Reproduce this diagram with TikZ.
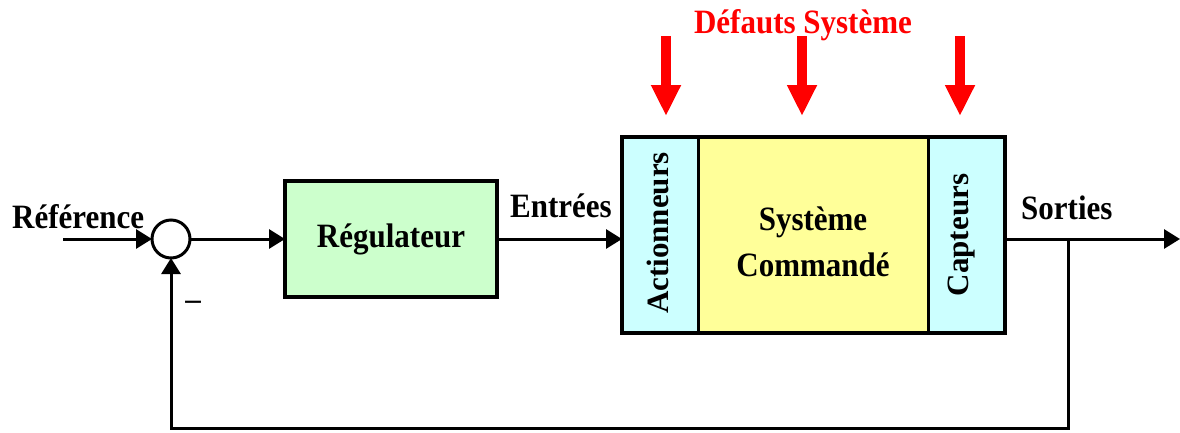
\documentclass[tikz,border=0pt]{standalone}
\usepackage{fontspec}
\setmainfont{Liberation Serif}
\usetikzlibrary{arrows.meta}
\definecolor{regfill}{HTML}{CCFFCC}
\definecolor{sidefill}{HTML}{CCFFFF}
\definecolor{sysfill}{HTML}{FFFF99}
\begin{document}
\begin{tikzpicture}[x=1pt,y=-1pt,
  lbl/.style={font=\fontsize{31}{42}\bfseries\selectfont, inner sep=0pt},
  tall/.style={yscale=1.1, transform shape},
  wire/.style={line width=3pt},
  flow/.style={wire, -{Triangle[length=16pt,width=19pt]}},
  block/.style={draw, line width=4pt, inner sep=0pt, outer sep=0pt, anchor=north west},
  fault/.style={draw=red, line width=10pt, -{Triangle[length=31pt,width=28pt]}}]
\useasboundingbox (0,0) rectangle (1180,432);

% summing junction
\node[draw, circle, line width=3pt, minimum size=38pt, inner sep=0pt, outer sep=0pt] (sum) at (171,239) {};

% controller
\node[block, fill=regfill, minimum width=212pt, minimum height=116pt] (reg) at (285,181) {};
\node[lbl, tall] (regt) at (reg.center) {Régulateur};

% controlled plant: actuators | system | sensors
\node[block, line width=3pt, fill=sidefill, minimum width=76pt, minimum height=196pt] (act) at (622,137) {};
\node[block, line width=3pt, fill=sysfill, minimum width=230pt, minimum height=196pt] (sys) at (698,137) {};
\node[block, line width=3pt, fill=sidefill, minimum width=77pt, minimum height=196pt] (cap) at (928,137) {};
\draw[line width=4pt] (act.north west) rectangle (cap.south east);
\node[lbl, rotate=90] (actt) at (658,233) {Actionneurs};
\node[lbl, rotate=90] (capt) at (962,235) {Capteurs};
\node[lbl, tall, align=center] (syst) at (813,242) {Système\\Commandé};

% labels
\node[lbl, tall, anchor=base west] (ref) at (12,228) {Référence};
\node[lbl, tall, anchor=base west] (ent) at (510,217) {Entrées};
\node[lbl, tall, anchor=base west] (sor) at (1021,219) {Sorties};
\node[lbl, tall, text=red, anchor=base] (def) at (803,33) {Défauts Système};
\node[lbl] (minus) at (193,305) {–};

% signal flow
\coordinate (refin) at (63,239);
\coordinate (out) at (1180,239);
\coordinate (tap) at (1068,239);
\coordinate (fbr) at (1068,428);
\coordinate (fbl) at (171,428);
\draw[flow] (refin) -- (sum.west);
\draw[flow] (sum.east) -- (reg.west |- sum);
\draw[flow] (reg.east |- sum) -- (act.west |- sum);
\draw[flow] (cap.east |- sum) -- (out);
\draw[wire, line join=miter] (tap) -- (fbr) -- (fbl) -- ++(0,-1);
\draw[flow] (fbl) -- (sum.south);

% fault inputs
\coordinate (f1) at (666,36);
\coordinate (f2) at (802,36);
\coordinate (f3) at (960,36);
\draw[fault] (f1) -- (666,116);
\draw[fault] (f2) -- (802,116);
\draw[fault] (f3) -- (960,116);
\end{tikzpicture}
\end{document}
